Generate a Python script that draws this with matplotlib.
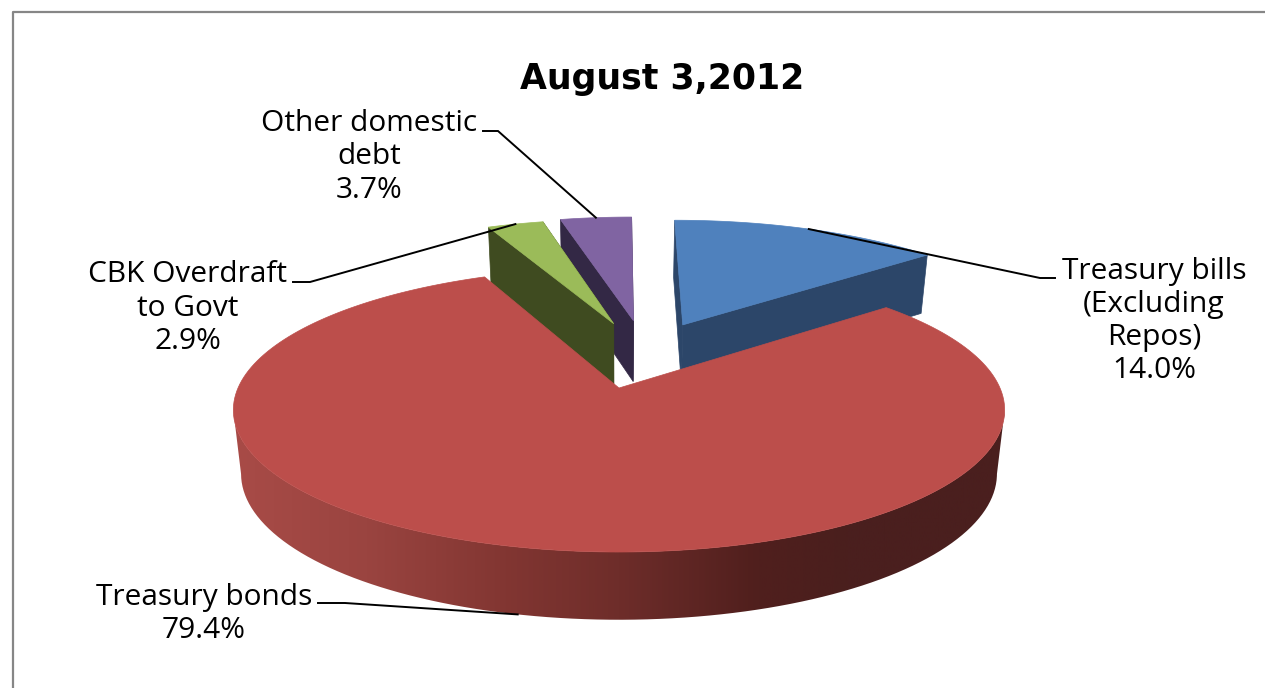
import numpy as np
import matplotlib
matplotlib.use("Agg")
import matplotlib.pyplot as plt
from matplotlib.colors import LinearSegmentedColormap
from matplotlib.patches import Polygon, PathPatch
from matplotlib.path import Path

# debt composition, share of total in percent
categories = ["Treasury bills\n(Excluding\nRepos)", "Treasury bonds", "CBK Overdraft\nto Govt", "Other domestic\ndebt"]
shares = [14.0, 79.4, 2.9, 3.7]
title = "August 3,2012"

top_colors = ["#4f81bd", "#bc4e4b", "#9bbb59", "#8064a2"]
wall_colors = ["#2c4669", "#4a1f1e", "#3f4b20", "#332845"]
# slices pulled out of the pie, in units of the radius
explode = [(0.18, 0.49), (0.0, 0.0), (-0.015, 0.5), (0.041, 0.525)]

# perspective camera for the tilted disc, output in pixels
CX, CY = 619, 388
RX, RY = 381, 138.6
PERSP = 0.155
DEPTH = 63


def project(u, v, z=0):
    d = 1 + PERSP * v
    x = CX + RX * u * (1 - 0.02 * z) / d
    y = CY - RY * v / d + z * DEPTH / (1 + 0.45 * PERSP * v)
    return x, y


def arc(start, end, off, z=0, n=200):
    t = np.radians(np.linspace(start, end, n))
    return project(np.sin(t) + off[0], np.cos(t) + off[1], z)


def wall(angle, off):
    # flat cut face running from the centre to the rim
    x0, y0 = project(off[0], off[1], 0)
    x1, y1 = arc(angle, angle, off, 0, 1)
    x2, y2 = arc(angle, angle, off, 1, 1)
    x3, y3 = project(off[0], off[1], 1)
    return [(x0, y0), (x1[0], y1[0]), (x2[0], y2[0]), (x3, y3)]


fig = plt.figure(figsize=(12.65, 6.88), dpi=100)
ax = fig.add_axes([0, 0, 1, 1])

ends = np.cumsum([0] + shares) * 3.6
mids = (ends[:-1] + ends[1:]) / 2

# draw back to front: blue, purple, green, then the big red slice
for i in [0, 3, 2]:
    off = explode[i]
    ax.add_patch(Polygon(wall(ends[i], off), fc=wall_colors[i], ec=wall_colors[i], lw=0.5, zorder=2))
    ax.add_patch(Polygon(wall(ends[i + 1], off), fc=wall_colors[i], ec=wall_colors[i], lw=0.5, zorder=2))
    x, y = arc(ends[i], ends[i + 1], off)
    ax0, ay0 = project(off[0], off[1])
    ax.add_patch(Polygon(np.column_stack([np.r_[ax0, x], np.r_[ay0, y]]),
                         fc=top_colors[i], ec=top_colors[i], lw=0.5, zorder=3))

# red rim with the left to right shading, silhouette runs between the widest points
off = explode[1]
xt, yt = arc(ends[1], ends[2], off, 0)
xf, yf = arc(99, 261, off, 0)
xb, yb = arc(99, 261, off, 1)
rim = np.column_stack([np.r_[xf, xb[::-1], xf[0]], np.r_[yf, yb[::-1], yf[0]]])
rim_cmap = LinearSegmentedColormap.from_list("rim", [
    (0.0, "#a84b47"), (0.17, "#9a4440"), (0.35, "#823632"),
    (0.5, "#6e2d2a"), (0.68, "#501f1d"), (0.8, "#4a1f1e"), (1.0, "#4a1f1e")])
im = ax.imshow(np.linspace(0, 1, 400)[None, :], cmap=rim_cmap, extent=(234, 1005, 640, 260),
               aspect="auto", zorder=4)
clip = PathPatch(Path(rim), fc="none", ec="none", transform=ax.transData)
ax.add_patch(clip)
im.set_clip_path(clip)

ax0, ay0 = project(off[0], off[1])
ax.add_patch(Polygon(np.column_stack([np.r_[ax0, xt], np.r_[ay0, yt]]),
                     fc=top_colors[1], ec=top_colors[1], lw=0.5, zorder=5))

# chart frame, right and bottom sides fall outside the canvas
ax.plot([13, 13, 1270], [695, 12, 12], color="#868686", lw=1.6, zorder=1)

ax.text(662, 79, title, ha="center", va="center", fontsize=25, fontweight="bold",
        family="DejaVu Sans", color="black", zorder=7)

# data labels with elbow leaders ending on the middle of each slice
label_pos = [(1154, 321), (204, 614), (188, 308), (369, 157)]
elbows = [(1040, 278, 1055), (345, 603, 318), (310, 282, 293), (498, 131, 483)]
for i, name in enumerate(categories):
    text = f"{name}\n{shares[i]:.1f}%"
    ax.text(label_pos[i][0], label_pos[i][1], text, ha="center", va="center",
            fontsize=21.5, family="Open Sans", color="black", linespacing=1.19, zorder=7)
    z = 1 if i == 1 else 0
    mx, my = arc(mids[i], mids[i], explode[i], z, 1)
    ex, ey, tx = elbows[i]
    ax.plot([mx[0], ex, tx], [my[0], ey, ey], color="black", lw=1.4, zorder=6,
            solid_joinstyle="miter")

ax.set_xlim(0, 1265)
ax.set_ylim(688, 0)
ax.axis("off")

fig.savefig("out.png", dpi=100)
